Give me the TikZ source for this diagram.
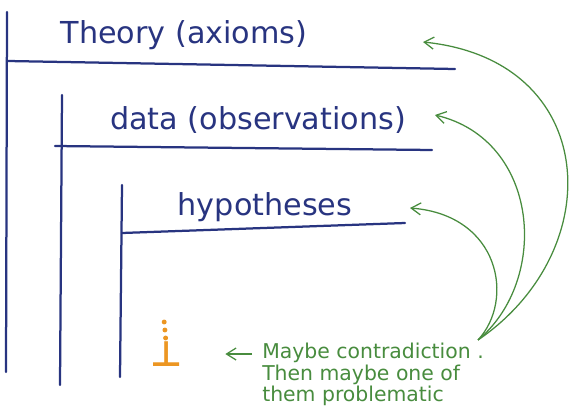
\documentclass[tikz,border=0pt]{standalone}
\usepackage{tikz}
\usetikzlibrary{arrows.meta,positioning,calc}
\usepackage{amsmath}
\usepackage{fontspec}
\setsansfont{DejaVu Sans}
\definecolor{TintaAzul}{RGB}{40,52,128}
\definecolor{TintaVerde}{RGB}{72,140,62}
\definecolor{TintaNaranja}{RGB}{236,150,34}
\tikzset{
  scopeline/.style={draw=TintaAzul, line width=1.6pt, line cap=round},
  headtext/.style={text=TintaAzul, font=\sffamily\fontsize{21.5}{24}\selectfont, inner sep=0pt},
  notetext/.style={text=TintaVerde, align=left, anchor=north west,
    font=\sffamily\fontsize{14.5}{15.3}\selectfont, inner sep=0pt},
  notearr/.style={-{Straight Barb[length=2.4mm, width=3mm]}, line width=0.9pt, TintaVerde},
  dotmark/.style={circle, fill=TintaNaranja, inner sep=0pt, minimum size=3.5pt},
}
\begin{document}
\begin{tikzpicture}[x=0.025cm, y=-0.025cm]
  \useasboundingbox (0,0) rectangle (572,414);
  % ---- cajas de supuestos ----
  \draw[scopeline] (7,12) -- (6,372);
  \draw[scopeline] (8,61) -- (455,69);
  \draw[scopeline] (62,95) -- (60,385);
  \draw[scopeline] (55,146) -- (432,150);
  \draw[scopeline] (122,185) -- (120,377);
  \draw[scopeline] (122,233) -- (405,223);
  \node[headtext] (theory) at (184,35) {Theory (axioms)};
  \node[headtext] (data) at (258,120) {data (observations)};
  \node[headtext] (hyp) at (265,207) {hypotheses};
  % ---- contradiccion ----
  \foreach \yy [count=\i] in {322,330,338}
    \node[dotmark] (dot\i) at (163.5+0.7*\i,\yy) {};
  \node[text=TintaNaranja, font=\sffamily\bfseries\fontsize{25}{25}\selectfont, inner sep=0pt] (bot) at (167,354) {⊥};
  \node[notetext] (note) at (262,343) {Maybe contradiction .\\Then maybe one of\\them problematic};
  \draw[notearr] (note.west |- bot) ++(-10,0) coordinate (arrfrom) -- ($(bot.east)+(42,0)$);
  \coordinate (src) at (478,340);
  \coordinate (tipT) at (423,42);
  \coordinate (tipD) at (435,115);
  \coordinate (tipH) at (410,208);
  \draw[notearr] (src) .. controls (610,250) and (600,60) .. (tipT);
  \draw[notearr] (src) .. controls (550,280) and (540,140) .. (tipD);
  \draw[notearr] (src) .. controls (515,300) and (500,215) .. (tipH);
\end{tikzpicture}
\end{document}
